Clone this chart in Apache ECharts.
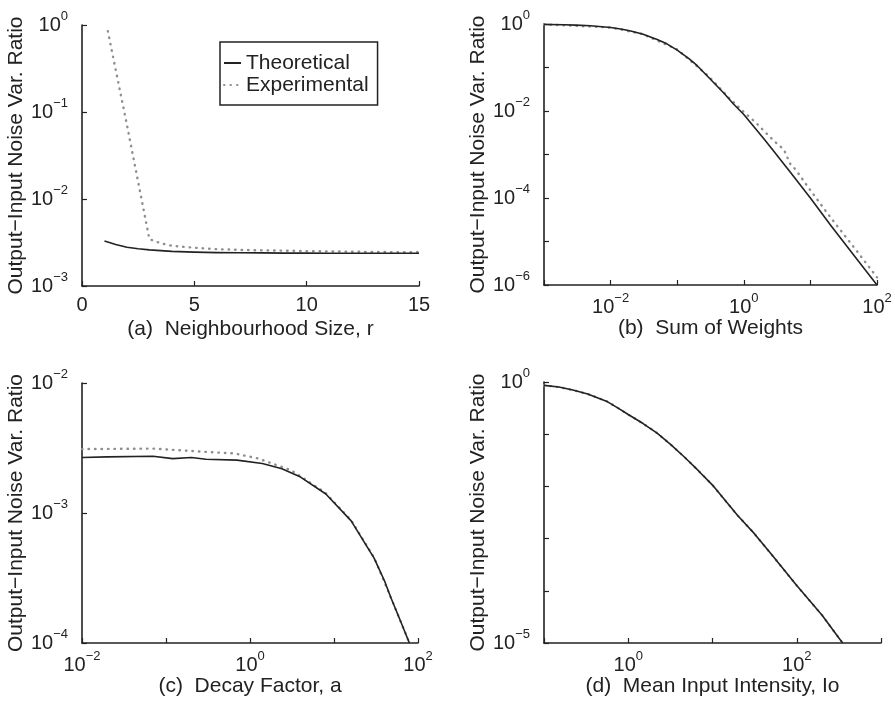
<!DOCTYPE html>
<html><head><meta charset="utf-8">
<script src="https://cdn.jsdelivr.net/npm/echarts@6/dist/echarts.min.js"></script>
<style>html,body{margin:0;padding:0;background:#fff}#c{width:895px;height:705px}</style>
</head><body><div id="c"></div>
<script>
// ---------- labels ----------
const legendNames = ['Theoretical', 'Experimental'];
const yTitle = 'Output\u2212Input Noise Var. Ratio';
const captions = ['(a)  Neighbourhood Size, r', '(b)  Sum of Weights', '(c)  Decay Factor, a', '(d)  Mean Input Intensity, Io'];

// tick labels (exponents of 10 shown; (a) x is linear)
const aXTicks = [0, 5, 10, 15];
const aYExp = [0, -1, -2, -3];
const bXExp = [-2, 0, 2];
const bYExp = [0, -2, -4, -6];
const cXExp = [-2, 0, 2];
const cYExp = [-2, -3, -4];
const dXExp = [0, 2];
const dYExp = [0, -5];

// ---------- (a) Neighbourhood Size ----------
const aTheoX = [1, 1.5, 2, 2.5, 3, 4, 5, 6, 7, 8, 9, 10, 11, 12, 13, 14, 15];
const aTheoY = [3.3e-3, 3.0e-3, 2.79e-3, 2.68e-3, 2.6e-3, 2.5e-3, 2.45e-3, 2.42e-3, 2.41e-3, 2.4e-3, 2.39e-3, 2.39e-3, 2.38e-3, 2.38e-3, 2.38e-3, 2.38e-3, 2.38e-3];
const aExpX = [1.15, 2, 3, 3.5, 4, 5, 6, 7, 8, 9, 10, 11, 12, 13, 14, 15];
const aExpY = [0.85, 0.071, 3.45e-3, 3.1e-3, 2.9e-3, 2.75e-3, 2.65e-3, 2.6e-3, 2.57e-3, 2.55e-3, 2.52e-3, 2.5e-3, 2.48e-3, 2.46e-3, 2.45e-3, 2.44e-3];

// ---------- (b) Sum of Weights ----------
const bTheoX = [0.001, 0.002, 0.003, 0.005, 0.01, 0.015, 0.02, 0.03, 0.05, 0.07, 0.1, 0.15, 0.2, 0.3, 0.5, 0.7, 1, 2, 3, 5, 10, 20, 50, 100];
const bTheoY = [0.98, 0.96, 0.94, 0.91, 0.83, 0.76, 0.69, 0.59, 0.44, 0.35, 0.25, 0.16, 0.11, 0.058, 0.026, 0.0145, 0.0083, 0.0023, 0.00106, 0.00039, 0.0001, 2.4e-5, 3.9e-6, 1e-6];
const bExpX = [0.001, 0.01, 0.03, 0.1, 0.3, 0.6, 1, 1.5, 2, 3, 4, 5, 6, 10, 20, 50, 100];
const bExpY = [0.98, 0.83, 0.59, 0.26, 0.062, 0.02, 0.0095, 0.0055, 0.0035, 0.0019, 0.0013, 0.0006, 0.00045, 0.00015, 3.6e-5, 6e-6, 1.5e-6];

// ---------- (c) Decay Factor ----------
const cTheoX = [0.01, 0.02, 0.07, 0.12, 0.2, 0.3, 0.7, 1.4, 2.4, 4, 8, 16, 30, 40, 48, 60, 79];
const cTheoY = [2.67e-3, 2.70e-3, 2.73e-3, 2.62e-3, 2.67e-3, 2.59e-3, 2.55e-3, 2.40e-3, 2.19e-3, 1.89e-3, 1.40e-3, 8.7e-4, 4.5e-4, 3.0e-4, 2.2e-4, 1.55e-4, 1.0e-4];
const cExpX = [0.01, 0.07, 0.3, 0.66, 1.24, 3.1, 7.8, 16, 30, 48, 79];
const cExpY = [3.1e-3, 3.13e-3, 2.95e-3, 2.87e-3, 2.63e-3, 2.13e-3, 1.44e-3, 8.8e-4, 4.55e-4, 2.2e-4, 1.0e-4];

// ---------- (d) Mean Input Intensity ----------
const dTheoX = [0.1, 0.15, 0.22, 0.33, 0.55, 0.75, 1, 1.5, 2.2, 3.2, 4.6, 6.8, 10, 15, 20, 31.6, 50, 100, 200, 350];
const dTheoY = [0.863, 0.80, 0.70, 0.59, 0.43, 0.32, 0.238, 0.16, 0.105, 0.063, 0.037, 0.02, 0.0106, 4.8e-3, 2.75e-3, 1.23e-3, 5e-4, 1.26e-4, 3.4e-5, 1e-5];
const dExpX = [0.1, 0.15, 0.22, 0.33, 0.55, 0.75, 1, 1.5, 2.2, 3.2, 4.6, 6.8, 10, 15, 20, 31.6, 50, 100, 200, 350];
const dExpY = [0.863, 0.80, 0.70, 0.59, 0.43, 0.32, 0.238, 0.16, 0.105, 0.063, 0.037, 0.02, 0.0106, 4.8e-3, 2.75e-3, 1.23e-3, 5e-4, 1.26e-4, 3.4e-5, 1e-5];

// ---------- build ----------
const FONT = '"Liberation Sans", Arial, Helvetica, sans-serif';
const INK = '#222';
const pairs = (xs, ys) => xs.map((x, i) => [x, ys[i]]);
const rich = {
  b: { fontSize: 20, lineHeight: 30, fontFamily: FONT, color: INK },
  s: { fontSize: 13, lineHeight: 12, verticalAlign: 'top', fontFamily: FONT, color: INK }
};
function supFmt(shown) {
  return function (v) {
    const e = Math.round(Math.log10(v));
    if (shown.indexOf(e) < 0) return '';
    return '{b|10}{s|' + (e < 0 ? '\u2212' + (-e) : String(e)) + '}';
  };
}
const axisLine = { show: true, lineStyle: { color: INK, width: 1.6 } };
const axisTick = { show: true, inside: true, length: 5, lineStyle: { color: INK, width: 1.2 } };

const grids = [
  { left: 82, top: 25, width: 337, height: 261 },
  { left: 544, top: 24, width: 333, height: 261 },
  { left: 82, top: 383, width: 336, height: 260 },
  { left: 544, top: 382, width: 337, height: 261 }
].map(g => Object.assign({ containLabel: false, outerBoundsMode: 'none' }, g));

function xLog(idx, min, max, shown) {
  return {
    type: 'log', logBase: 10, gridIndex: idx, min: min, max: max, interval: 1,
    axisLine: axisLine, axisTick: axisTick, splitLine: { show: false },
    axisLabel: { formatter: supFmt(shown), rich: rich, margin: 7, showMinLabel: true, showMaxLabel: true },
    name: captions[idx], nameLocation: 'middle', nameGap: 33,
    nameTextStyle: { fontSize: 21, fontFamily: FONT, color: INK }
  };
}
function yLog(idx, min, max, shown) {
  return {
    type: 'log', logBase: 10, gridIndex: idx, min: min, max: max, interval: 1,
    axisLine: axisLine, axisTick: axisTick, splitLine: { show: false },
    axisLabel: { formatter: supFmt(shown), rich: rich, margin: 14, showMinLabel: true, showMaxLabel: true },
    name: yTitle, nameLocation: 'middle', nameGap: 49, nameRotate: 90,
    nameTextStyle: { fontSize: 21, fontFamily: FONT, color: INK }
  };
}

const xAxes = [
  {
    type: 'value', gridIndex: 0, min: aXTicks[0], max: aXTicks[aXTicks.length - 1], interval: 5,
    axisLine: axisLine, axisTick: axisTick, splitLine: { show: false },
    axisLabel: { fontSize: 20, fontFamily: FONT, color: INK, margin: 9 },
    name: captions[0], nameLocation: 'middle', nameGap: 33,
    nameTextStyle: { fontSize: 21, fontFamily: FONT, color: INK }
  },
  xLog(1, 0.001, 100, bXExp),
  xLog(2, 0.01, 100, cXExp),
  xLog(3, 0.1, 1000, dXExp)
];
const yAxes = [
  yLog(0, 0.001, 1, aYExp),
  yLog(1, 1e-6, 1, bYExp),
  yLog(2, 1e-4, 1e-2, cYExp),
  yLog(3, 1e-5, 1, dYExp)
];

function expSeries(idx, xs, ys) {
  return {
    name: legendNames[1], type: 'line', xAxisIndex: idx, yAxisIndex: idx,
    data: pairs(xs, ys), symbol: 'none', showSymbol: false, z: 2, clip: true,
    lineStyle: { color: '#8e8e8e', width: 2.4, type: [0.5, 6], cap: 'round', join: 'round' },
    itemStyle: { color: '#8e8e8e' }
  };
}
function theoSeries(idx, xs, ys) {
  return {
    name: legendNames[0], type: 'line', xAxisIndex: idx, yAxisIndex: idx,
    data: pairs(xs, ys), symbol: 'none', showSymbol: false, z: 3, clip: true,
    lineStyle: { color: INK, width: 1.6, type: 'solid', join: 'round' },
    itemStyle: { color: INK }
  };
}

const chart = echarts.init(document.getElementById('c'), null, { renderer: 'canvas' });
chart.setOption({
  animation: false,
  backgroundColor: '#fff',
  textStyle: { fontFamily: FONT, color: INK },
  legend: {
    data: legendNames, orient: 'vertical', left: 220, top: 42,
    padding: [10, 9, 9, 3], itemWidth: 17, itemHeight: 12, itemGap: 0,
    borderColor: INK, borderWidth: 1.5, backgroundColor: '#fff',
    itemStyle: { opacity: 0, borderWidth: 0 },
    textStyle: { fontSize: 21, lineHeight: 22, fontFamily: FONT, color: INK },
    selectedMode: false
  },
  grid: grids,
  xAxis: xAxes,
  yAxis: yAxes,
  series: [
    expSeries(0, aExpX, aExpY), theoSeries(0, aTheoX, aTheoY),
    expSeries(1, bExpX, bExpY), theoSeries(1, bTheoX, bTheoY),
    expSeries(2, cExpX, cExpY), theoSeries(2, cTheoX, cTheoY),
    expSeries(3, dExpX, dExpY), theoSeries(3, dTheoX, dTheoY)
  ]
});
</script></body></html>
